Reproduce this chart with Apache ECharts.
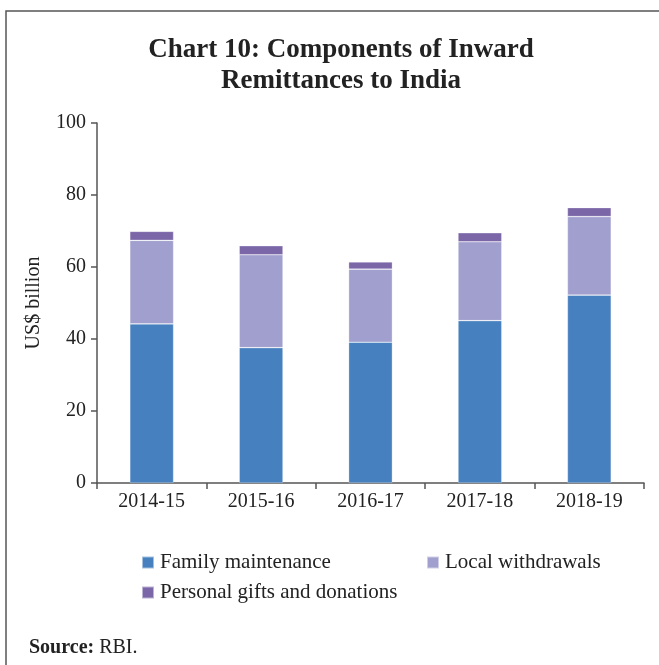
<!DOCTYPE html>
<html>
<head>
<meta charset="utf-8">
<script src="https://cdn.jsdelivr.net/npm/echarts@6/dist/echarts.min.js"></script>
<style>
  html, body { margin: 0; padding: 0; background: #fff; }
  #chart { width: 659px; height: 665px; }
</style>
</head>
<body>
<div id="chart"></div>
<script>
// Inward remittances to India by component, US$ billion
const years = ['2014-15', '2015-16', '2016-17', '2017-18', '2018-19'];
const familyMaintenance = [44.2, 37.6, 39.1, 45.1, 52.2];
const localWithdrawals = [23.2, 25.8, 20.3, 21.9, 21.8];
const personalGifts = [2.5, 2.5, 2.0, 2.5, 2.5];
const yTicks = [0, 20, 40, 60, 80, 100];

const seriesNames = ['Family maintenance', 'Local withdrawals', 'Personal gifts and donations'];
const seriesColors = ['#4680bf', '#a09fce', '#7b66a8'];
const seriesData = [familyMaintenance, localWithdrawals, personalGifts];

const serif = '"Liberation Serif", "DejaVu Serif", serif';
const axisColor = '#555';
const textColor = '#222';

const chart = echarts.init(document.getElementById('chart'), null, { renderer: 'canvas' });

function legendFor(name, left, top) {
  return {
    data: [name],
    left: left,
    top: top,
    orient: 'horizontal',
    icon: 'rect',
    itemWidth: 12,
    itemHeight: 12,
    itemGap: 0,
    padding: 0,
    selectedMode: false,
    textStyle: { fontFamily: serif, fontSize: 21, color: textColor, padding: [0, 0, 0, 1] }
  };
}

chart.setOption({
  animation: false,
  backgroundColor: '#fff',
  title: [
    {
      text: 'Chart 10: Components of Inward\nRemittances to India',
      left: 336,
      top: 30,
      textAlign: 'center',
      textStyle: {
        fontFamily: serif,
        fontWeight: 'bold',
        fontSize: 27,
        lineHeight: 31,
        color: '#222'
      }
    },
    {
      text: '{b|Source:} {r|RBI.}',
      left: 24,
      top: 633,
      textStyle: {
        fontWeight: 'normal',
        fontFamily: serif,
        fontSize: 20,
        rich: {
          b: { fontFamily: serif, fontWeight: 'bold', fontSize: 20, color: '#222' },
          r: { fontFamily: serif, fontWeight: 'normal', fontSize: 20, color: '#222' }
        }
      }
    }
  ],
  legend: [
    legendFor(seriesNames[0], 141, 552),
    legendFor(seriesNames[1], 426, 552),
    legendFor(seriesNames[2], 141, 582)
  ],
  grid: { left: 97, right: 15, top: 123, bottom: 182, containLabel: false },
  xAxis: {
    type: 'category',
    data: years,
    boundaryGap: true,
    axisLine: { show: true, lineStyle: { color: axisColor, width: 1.5 } },
    axisTick: { show: true, length: 6, lineStyle: { color: axisColor, width: 1.5 } },
    axisLabel: { fontFamily: serif, fontSize: 20, color: textColor, margin: 9 }
  },
  yAxis: {
    type: 'value',
    min: yTicks[0],
    max: yTicks[yTicks.length - 1],
    interval: yTicks[1] - yTicks[0],
    name: 'US$ billion',
    nameLocation: 'middle',
    nameGap: 53,
    nameRotate: 90,
    nameTextStyle: { fontFamily: serif, fontSize: 20, color: textColor },
    splitLine: { show: false },
    axisLine: { show: true, lineStyle: { color: axisColor, width: 1.5 } },
    axisTick: { show: true, length: 6, lineStyle: { color: axisColor, width: 1.5 } },
    axisLabel: { fontFamily: serif, fontSize: 20, color: textColor, margin: 11 }
  },
  series: seriesNames.map((name, i) => ({
    name: name,
    type: 'bar',
    stack: 'total',
    data: seriesData[i],
    barWidth: '40%',
    itemStyle: { color: seriesColors[i], borderColor: 'rgba(255,255,255,0.5)', borderWidth: 0.6 }
  })),
  graphic: [
    {
      type: 'polyline',
      silent: true,
      shape: { points: [[6, 665], [6, 11], [659, 11]] },
      style: { stroke: '#555', lineWidth: 1.5, fill: null }
    }
  ]
});
</script>
</body>
</html>
